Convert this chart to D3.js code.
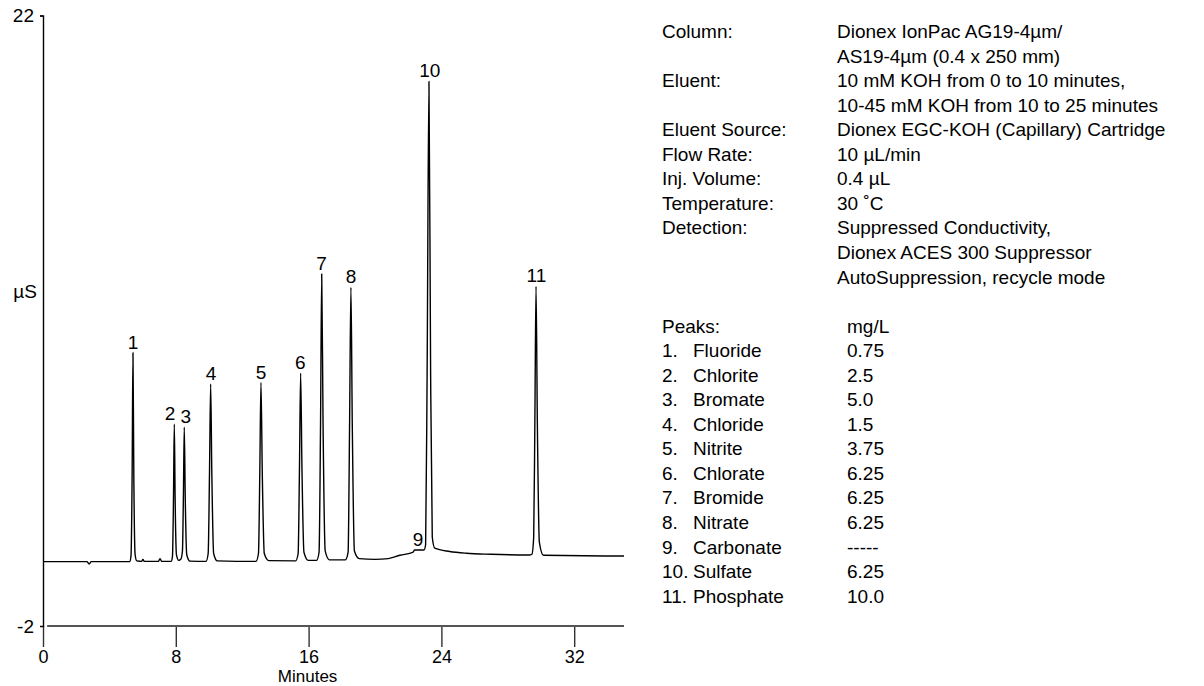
<!DOCTYPE html>
<html>
<head>
<meta charset="utf-8">
<script src="https://cdn.jsdelivr.net/npm/d3@7"></script>
<style>
  body { margin: 0; background: #fff; }
  svg text { font-family: "Liberation Sans", Arial, sans-serif; fill: #000; }
</style>
</head>
<body>
<div id="chart"></div>
<script>
// chromatogram trace, [minutes, µS]
const trace = [
  [0, 0.53], [2.65, 0.53], [2.78, 0.44], [2.9, 0.53], [5.22, 0.53],
  [5.30, 0.75], [5.37, 4.0], [5.42, 8.74], [5.47, 4.0], [5.55, 0.8], [5.65, 0.56],
  [5.95, 0.54], [6.02, 0.62], [6.1, 0.54],
  [6.95, 0.54], [7.05, 0.65], [7.15, 0.54], [7.72, 0.54],
  [7.80, 0.75], [7.86, 3.0], [7.91, 5.94], [7.96, 3.0], [8.04, 0.8], [8.18, 0.58],
  [8.30, 0.62], [8.40, 0.95], [8.46, 3.2], [8.51, 5.82], [8.57, 3.0], [8.66, 0.8], [8.85, 0.55],
  [9.82, 0.54], [9.95, 0.85], [10.03, 4.0], [10.10, 7.52], [10.17, 4.0], [10.28, 0.85], [10.5, 0.56],
  [12.83, 0.54], [12.98, 0.85], [13.06, 4.0], [13.13, 7.57], [13.21, 4.0], [13.33, 0.85], [13.6, 0.57],
  [15.22, 0.56], [15.37, 0.85], [15.45, 4.2], [15.52, 7.94], [15.60, 4.2], [15.72, 0.9], [15.98, 0.58],
  [16.48, 0.58], [16.63, 0.9], [16.72, 6.0], [16.79, 11.84], [16.87, 6.0], [17.0, 0.95], [17.25, 0.6],
  [18.22, 0.6], [18.38, 0.9], [18.47, 6.0], [18.55, 11.31], [18.63, 6.0], [18.76, 0.95], [19.05, 0.65],
  [20.0, 0.62], [20.8, 0.65], [21.5, 0.78], [22.3, 0.9], [22.38, 0.99], [22.95, 0.99],
  [23.05, 1.2], [23.14, 8.0], [23.25, 19.41], [23.35, 8.0], [23.45, 1.5], [23.6, 1.06],
  [24.5, 0.93], [25.5, 0.86], [27, 0.82], [29.3, 0.79],
  [29.45, 0.82], [29.56, 1.5], [29.63, 6.0], [29.70, 11.35], [29.78, 6.0], [29.9, 1.3], [30.15, 0.78],
  [35, 0.75]
];

// peak labels
const peakNums = ["1", "2", "3", "4", "5", "6", "7", "8", "9", "10", "11"];
const peakTimes = [5.42, 7.65, 8.6, 10.12, 13.13, 15.5, 16.78, 18.55, 22.6, 23.3, 29.72];
const peakTops = [8.74, 5.94, 5.82, 7.52, 7.57, 7.94, 11.84, 11.31, 0.99, 19.41, 11.35];

const xTicks = [0, 8, 16, 24, 32];
const yTicks = [-2, 22];

// conditions block
const condLabels = ["Column:", "", "Eluent:", "", "Eluent Source:", "Flow Rate:", "Inj. Volume:",
  "Temperature:", "Detection:", "", ""];
const condValues = ["Dionex IonPac AG19-4µm/", "AS19-4µm (0.4 x 250 mm)",
  "10 mM KOH from 0 to 10 minutes,", "10-45 mM KOH from 10 to 25 minutes",
  "Dionex EGC-KOH (Capillary) Cartridge", "10 µL/min", "0.4 µL", "30 ˚C",
  "Suppressed Conductivity,", "Dionex ACES 300 Suppressor", "AutoSuppression, recycle mode"];

const peakNames = ["Fluoride", "Chlorite", "Bromate", "Chloride", "Nitrite", "Chlorate",
  "Bromide", "Nitrate", "Carbonate", "Sulfate", "Phosphate"];
const peakConc = ["0.75", "2.5", "5.0", "1.5", "3.75", "6.25", "6.25", "6.25", "-----", "6.25", "10.0"];

const width = 1204, height = 686;

const svg = d3.select("#chart")
  .append("svg")
  .attr("width", width)
  .attr("height", height);

const x = d3.scaleLinear().domain([0, 35]).range([43, 624]);
const y = d3.scaleLinear().domain([-2, 22]).range([626, 15.5]);

// x axis: grey baseline, ticks hanging down
const xAxis = svg.append("g")
  .attr("transform", `translate(0,${y(-2)})`)
  .call(d3.axisBottom(x).tickValues(xTicks).tickSize(21).tickSizeOuter(0));
xAxis.select(".domain").remove();
xAxis.selectAll(".tick line").attr("stroke", "#333").attr("stroke-width", 1.4);
xAxis.selectAll(".tick text")
  .attr("y", 37)
  .attr("dy", 0)
  .style("font-size", "18px");
svg.append("line")
  .attr("x1", x(0.25)).attr("x2", x(35))
  .attr("y1", y(-2)).attr("y2", y(-2))
  .attr("stroke", "#555").attr("stroke-width", 2);

// y axis
const yAxis = svg.append("g")
  .attr("transform", `translate(${x(0)},0)`)
  .call(d3.axisLeft(y).tickValues(yTicks).tickSize(3).tickSizeOuter(3).tickFormat(d => String(d)));
yAxis.select(".domain").attr("stroke", "#000").attr("stroke-width", 1.4);
yAxis.selectAll(".tick line").attr("stroke", "#000");
yAxis.selectAll(".tick text")
  .attr("x", -9)
  .style("font-size", "19px");

svg.append("text")
  .attr("x", (x(8) + x(24)) / 2 - 1)
  .attr("y", 682)
  .attr("text-anchor", "middle")
  .style("font-size", "17px")
  .text("Minutes");

svg.append("text")
  .attr("x", 25)
  .attr("y", 298)
  .attr("text-anchor", "middle")
  .style("font-size", "19px")
  .text("µS");

// trace
const line = d3.line()
  .x(d => x(d[0]))
  .y(d => y(d[1]))
  .curve(d3.curveMonotoneX);

svg.append("path")
  .datum(trace)
  .attr("fill", "none")
  .attr("stroke", "#000")
  .attr("stroke-width", 1.4)
  .attr("stroke-linejoin", "round")
  .attr("d", line);

svg.append("g")
  .selectAll("text")
  .data(peakNums)
  .enter().append("text")
  .attr("x", (d, i) => x(peakTimes[i]))
  .attr("y", (d, i) => y(peakTops[i]) - 4)
  .attr("text-anchor", "middle")
  .style("font-size", "19px")
  .text(d => d);

// conditions text
const lineH = 24.55;
const top0 = 38;
const info = svg.append("g").style("font-size", "19px");

condLabels.forEach((t, i) => {
  info.append("text").attr("x", 662).attr("y", top0 + i * lineH).text(t);
  info.append("text").attr("x", 837).attr("y", top0 + i * lineH).text(condValues[i]);
});

const pk0 = top0 + 12 * lineH;
info.append("text").attr("x", 662).attr("y", pk0).text("Peaks:");
info.append("text").attr("x", 847).attr("y", pk0).text("mg/L");
peakNames.forEach((n, i) => {
  const yy = pk0 + (i + 1) * lineH;
  info.append("text").attr("x", 662).attr("y", yy).text(peakNums[i] + ".");
  info.append("text").attr("x", 693).attr("y", yy).text(n);
  info.append("text").attr("x", 847).attr("y", yy).text(peakConc[i]);
});
</script>
</body>
</html>
